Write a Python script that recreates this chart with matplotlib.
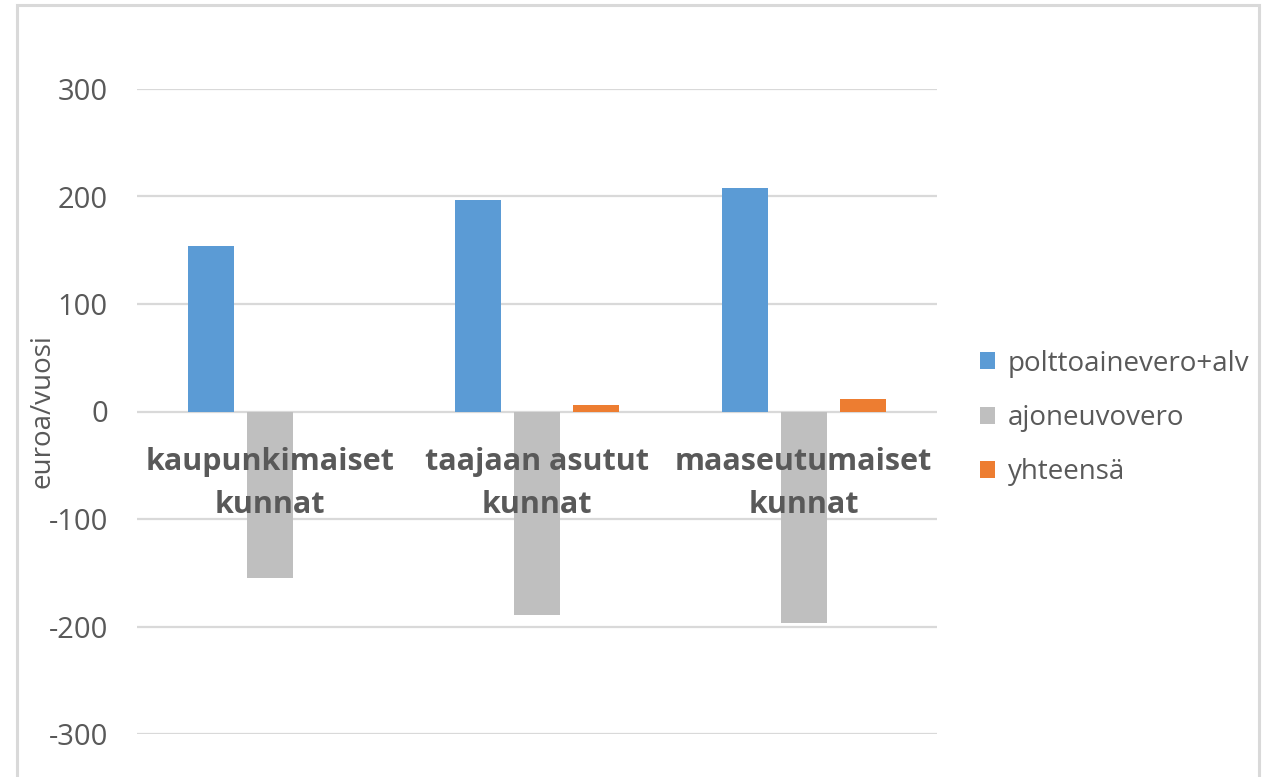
import numpy as np
import matplotlib
matplotlib.use("Agg")
import matplotlib.pyplot as plt
from matplotlib.patches import Patch, Rectangle

plt.rcParams['font.family'] = ['Open Sans', 'DejaVu Sans']

# Arvot euroa/vuosi kuntaryhmittäin
kuntaryhmat = ["kaupunkimaiset\nkunnat", "taajaan asutut\nkunnat", "maaseutumaiset\nkunnat"]
polttoainevero_alv = [153.5, 196.5, 207.5]
ajoneuvovero = [-154.5, -189.0, -196.5]
yhteensa = [-0.5, 6.5, 11.5]

sarjat = ["polttoainevero+alv", "ajoneuvovero", "yhteensä"]
varit = ["#5B9BD5", "#BFBFBF", "#ED7D31"]
y_ticks = [-300, -200, -100, 0, 100, 200, 300]

W, H = 1268, 777
fig = plt.figure(figsize=(W / 100, H / 100), dpi=100)

# kehys kuvan ympärillä
fig.patches.append(Rectangle((17 / W, -0.05), (1259 - 17) / W, 1.05 - 5 / H,
                             transform=fig.transFigure, fill=False,
                             edgecolor="#d9d9d9", lw=2.2))

ax = fig.add_axes([137 / W, 1 - 734 / H, (937 - 137) / W, (734 - 89) / H])

x = np.arange(len(kuntaryhmat))
leveys = 0.173
vali = 0.221
for i, (arvot, vari) in enumerate(zip([polttoainevero_alv, ajoneuvovero, yhteensa], varit)):
    ax.bar(x + (i - 1) * vali, arvot, width=leveys, color=vari, zorder=3)

ax.set_xlim(-0.5, len(kuntaryhmat) - 0.5)
ax.set_ylim(-300, 300)
ax.set_yticks(y_ticks)
ax.set_yticklabels([str(v) for v in y_ticks])
ax.tick_params(axis='y', length=0, pad=21, labelsize=21, labelcolor="#595959")
ax.set_xticks([])
ax.grid(axis='y', color="#d9d9d9", lw=1.6, zorder=0)
ax.set_axisbelow(True)
for s in ax.spines.values():
    s.set_visible(False)

# luokkien nimet nollaviivan alle
for xi, nimi in zip(x, kuntaryhmat):
    ax.text(xi, -67, nimi, ha='center', va='center', fontsize=22,
            fontweight='bold', color="#595959", linespacing=1.6, zorder=4)

fig.text(43 / W, 1 - 411 / H, "euroa/vuosi", rotation=90, ha='center', va='center',
         fontsize=20, color="#595959")

kahvat = [Patch(facecolor=c, edgecolor='none') for c in varit]
leg = fig.legend(kahvat, sarjat, loc='center left',
                 bbox_to_anchor=(955 / W, 1 - 418 / H), frameon=False,
                 fontsize=20, labelcolor="#595959", handlelength=0.55,
                 handleheight=0.55, handletextpad=0.45, labelspacing=0.95)

fig.savefig("out.png", dpi=100)
